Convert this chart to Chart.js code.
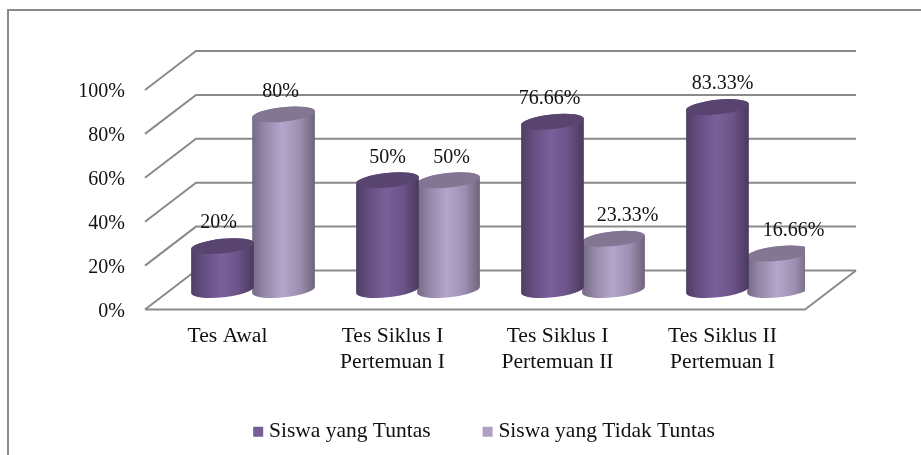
<!DOCTYPE html>
<html>
<head>
<meta charset="utf-8">
<style>
  body { margin: 0; background: #fff; }
  canvas { display: block; }
</style>
<script src="https://cdn.jsdelivr.net/npm/chart.js@4"></script>
</head>
<body>
<canvas id="hasilTes" width="921" height="455"></canvas>
<script>
const categories = [
  'Tes Awal',
  ['Tes Siklus I', 'Pertemuan I'],
  ['Tes Siklus I', 'Pertemuan II'],
  ['Tes Siklus II', 'Pertemuan I']
];
const siswaTuntas = [20, 50, 76.66, 83.33];
const siswaTidakTuntas = [80, 50, 23.33, 16.66];
const yTicks = [0, 20, 40, 60, 80, 100];

// hand placed label nudges in the original, px from the top of each cylinder
const nudgeTuntas = [-4, 0, -3, 5];
const nudgeTidak = [-3, 3, 14, 15];

const serif = 'Liberation Serif';
const gridColor = '#8a8a8a';
// depth of the fake 3d box; the cylinders stand half way in
const depthX = 51, depthY = 39;

function shade(hex, f) {
  const n = parseInt(hex.slice(1), 16);
  const c = [n >> 16, (n >> 8) & 255, n & 255].map(v => Math.round(v * f));
  return `rgb(${c[0]},${c[1]},${c[2]})`;
}

class Cylinder extends Chart.BarElement {
  draw(ctx) {
    const color = this.options.backgroundColor;
    // neighbours overlap a little
    const rx = this.width / 2 + 1, ry = 7.3, tilt = -6 * Math.PI / 180;
    const cx = this.x + depthX / 2;
    const top = this.y - depthY / 2, bottom = this.base - depthY / 2;

    const body = ctx.createLinearGradient(cx - rx, 0, cx + rx, 0);
    body.addColorStop(0, shade(color, 0.66));
    body.addColorStop(0.2, shade(color, 0.85));
    body.addColorStop(0.48, shade(color, 1.03));
    body.addColorStop(0.75, shade(color, 0.9));
    body.addColorStop(1, shade(color, 0.62));

    ctx.save();
    ctx.beginPath();
    ctx.ellipse(cx, bottom, rx, ry, tilt, Math.PI, 0, true);
    ctx.ellipse(cx, top, rx, ry, tilt, 0, Math.PI, true);
    ctx.closePath();
    ctx.fillStyle = body;
    ctx.fill();

    ctx.beginPath();
    ctx.ellipse(cx, top, rx, ry, tilt, 0, Math.PI * 2);
    ctx.fillStyle = shade(color, 0.74);
    ctx.fill();
    ctx.restore();
  }
}
Cylinder.id = 'cylinder';

class CylinderController extends Chart.BarController {}
CylinderController.id = 'cylinderBar';
CylinderController.defaults = { dataElementType: 'cylinder' };

Chart.register(Cylinder, CylinderController);

const frame3d = {
  id: 'frame3d',
  afterLayout(chart) {
    // legend sits lower and further right than the layout would put it
    const legend = chart.legend;
    legend.left += 84;
    legend.right += 84;
    const h = legend.height;
    legend.top = 364;
    legend.bottom = 364 + h;
    // labels get clipped to the scale box, so let it run past the legend
    chart.scales.x.bottom = 385;
  },
  beforeDraw(chart) {
    const ctx = chart.ctx;
    ctx.save();
    ctx.strokeStyle = gridColor;
    ctx.lineWidth = 2;
    ctx.beginPath();
    ctx.moveTo(8, 455);
    ctx.lineTo(8, 10);
    ctx.lineTo(921, 10);
    ctx.stroke();
    ctx.restore();
  },
  beforeDatasetsDraw(chart) {
    const { ctx, chartArea: a, scales: { y } } = chart;
    ctx.save();
    ctx.strokeStyle = gridColor;
    ctx.lineWidth = 2;
    ctx.beginPath();
    yTicks.forEach(t => {
      const py = y.getPixelForValue(t);
      ctx.moveTo(a.left, py);
      ctx.lineTo(a.left + depthX, py - depthY);
      ctx.lineTo(a.right + depthX, py - depthY);
    });
    ctx.moveTo(a.left, a.bottom);
    ctx.lineTo(a.right, a.bottom);
    ctx.lineTo(a.right + depthX, a.bottom - depthY);
    ctx.stroke();
    ctx.restore();
  },
  afterDatasetsDraw(chart) {
    const ctx = chart.ctx;
    ctx.save();
    ctx.font = `20px "${serif}"`;
    ctx.fillStyle = '#111';
    ctx.textAlign = 'center';
    ctx.textBaseline = 'middle';
    [nudgeTuntas, nudgeTidak].forEach((nudge, d) => {
      chart.getDatasetMeta(d).data.forEach((bar, i) => {
        const text = chart.data.datasets[d].data[i] + '%';
        ctx.fillText(text, bar.x + depthX / 2 + nudge[i], bar.y - depthY / 2 - 23);
      });
    });
    ctx.restore();
  }
};

new Chart(document.getElementById('hasilTes'), {
  type: 'cylinderBar',
  data: {
    labels: categories,
    datasets: [
      { label: 'Siswa yang Tuntas', data: siswaTuntas, backgroundColor: '#775c96', borderWidth: 0 },
      { label: 'Siswa yang Tidak Tuntas', data: siswaTidakTuntas, backgroundColor: '#b0a0c6', borderWidth: 0 }
    ]
  },
  options: {
    responsive: false,
    animation: false,
    layout: { padding: { left: 0, top: 90, right: 116, bottom: 0 } },
    categoryPercentage: 0.74,
    barPercentage: 1,
    plugins: {
      tooltip: { enabled: false },
      legend: {
        position: 'bottom',
        labels: {
          usePointStyle: true,
          pointStyle: 'rect',
          boxWidth: 0.01,
          boxHeight: 10,
          padding: 57,
          color: '#111',
          font: { family: serif, size: 21.5 }
        }
      }
    },
    scales: {
      x: {
        type: 'category',
        grid: { display: false },
        border: { display: false },
        afterFit(scale) { scale.height = 57; },
        ticks: {
          autoSkip: false,
          maxRotation: 0,
          padding: 6,
          color: '#111',
          font: { family: serif, size: 21.6, lineHeight: 1.19 }
        }
      },
      y: {
        type: 'linear',
        min: 0,
        max: 100,
        grid: { display: false },
        border: { display: false },
        afterFit(scale) { scale.width = 145; },
        afterBuildTicks(scale) { scale.ticks = yTicks.map(value => ({ value })); },
        ticks: {
          padding: 12,
          labelOffset: 2,
          color: '#111',
          font: { family: serif, size: 20 },
          callback: v => v + '%'
        }
      }
    }
  },
  plugins: [frame3d]
});
</script>
</body>
</html>
